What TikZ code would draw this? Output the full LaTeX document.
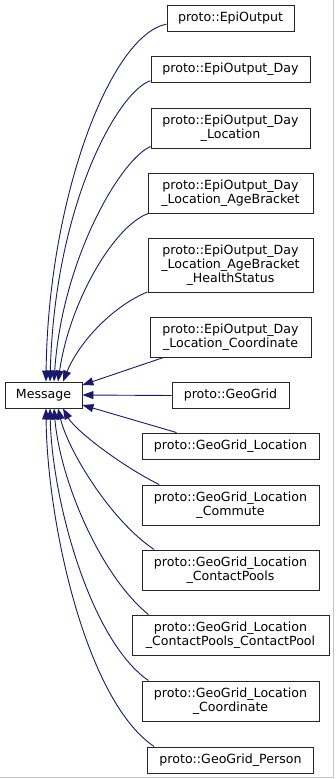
\documentclass[tikz,border=0pt]{standalone}
\usepackage{fontspec}
\setmainfont{DejaVu Sans}
\usetikzlibrary{arrows.meta}
\definecolor{midnight}{HTML}{191970}

\begin{document}
\begin{tikzpicture}[x=1pt,y=-1pt,
    cls/.style={draw=black!85,line width=.9pt,fill=white,align=center,inner sep=0pt,
      font=\fontsize{12.6}{14}\selectfont},
    inh/.style={draw=midnight,line width=.9pt,-{Triangle[length=11pt,width=8pt]}}]
  \useasboundingbox (0,0) rectangle (335,779);
  \fill[white] (0,0) rectangle (335,779);
  \draw[gray!45,line width=1pt] (333.5,0) -- (333.5,777.5) -- (0,777.5);

  % base class
  \node[cls,minimum width=77pt,minimum height=26pt] (msg) at (43.5,395) {Message};

  % derived classes
  \node[cls,minimum width=127pt,minimum height=26pt] (eo) at (230.5,18.5) {proto::EpiOutput};
  \node[cls,minimum width=159pt,minimum height=26pt] (eod) at (230.5,69.5) {proto::EpiOutput\_Day};
  \node[cls,minimum width=159pt,minimum height=40pt] (eodl) at (230.5,128) {proto::EpiOutput\_Day\\\_Location};
  \node[cls,minimum width=165pt,minimum height=40pt] (eodla) at (230.5,193) {proto::EpiOutput\_Day\\\_Location\_AgeBracket};
  \node[cls,minimum width=165pt,minimum height=54pt] (eodlah) at (230.5,265) {proto::EpiOutput\_Day\\\_Location\_AgeBracket\\\_HealthStatus};
  \node[cls,minimum width=161pt,minimum height=40pt] (eodlc) at (230.5,337) {proto::EpiOutput\_Day\\\_Location\_Coordinate};
  \node[cls,minimum width=117pt,minimum height=26pt] (gg) at (230.5,395.5) {proto::GeoGrid};
  \node[cls,minimum width=177pt,minimum height=26pt] (ggl) at (230.5,446) {proto::GeoGrid\_Location};
  \node[cls,minimum width=177pt,minimum height=40pt] (gglcm) at (230.5,505) {proto::GeoGrid\_Location\\\_Commute};
  \node[cls,minimum width=177pt,minimum height=40pt] (gglcps) at (230.5,570) {proto::GeoGrid\_Location\\\_ContactPools};
  \node[cls,minimum width=197pt,minimum height=40pt] (gglcp) at (230.5,635) {proto::GeoGrid\_Location\\\_ContactPools\_ContactPool};
  \node[cls,minimum width=177pt,minimum height=40pt] (gglco) at (230.5,701) {proto::GeoGrid\_Location\\\_Coordinate};
  \node[cls,minimum width=166pt,minimum height=26pt] (ggp) at (230.5,760) {proto::GeoGrid\_Person};

  % inheritance edges
  \draw[inh] (eo.185) .. controls (110,35) and (48,200) .. ([xshift=2.5pt]msg.north);
  \draw[inh] (eod.188) .. controls (120,90) and (55,200) .. ([xshift=6.5pt]msg.north);
  \draw[inh] (eodl.193) .. controls (120,160) and (62,260) .. ([xshift=10.5pt]msg.north);
  \draw[inh] (eodla.194) .. controls (115,225) and (70,300) .. ([xshift=14.5pt]msg.north);
  \draw[inh] (eodlah.198) .. controls (115,305) and (80,340) .. ([xshift=19.5pt]msg.north);
  \draw[inh] (eodlc.197.5) -- ([yshift=10pt]msg.east);
  \draw[inh] (gg.west) -- (msg.east);
  \draw[inh] (ggl.166) -- ([yshift=-10pt]msg.east);
  \draw[inh] (gglcm.164.6) .. controls (120,465) and (75,430) .. ([xshift=19.5pt]msg.south);
  \draw[inh] (gglcps.165.5) .. controls (110,520) and (68,450) .. ([xshift=14.5pt]msg.south);
  \draw[inh] (gglcp.166) .. controls (100,575) and (60,480) .. ([xshift=10.5pt]msg.south);
  \draw[inh] (gglco.166.5) .. controls (90,640) and (52,500) .. ([xshift=6.5pt]msg.south);
  \draw[inh] (ggp.170.6) .. controls (85,700) and (47,520) .. ([xshift=2.5pt]msg.south);
\end{tikzpicture}
\end{document}
